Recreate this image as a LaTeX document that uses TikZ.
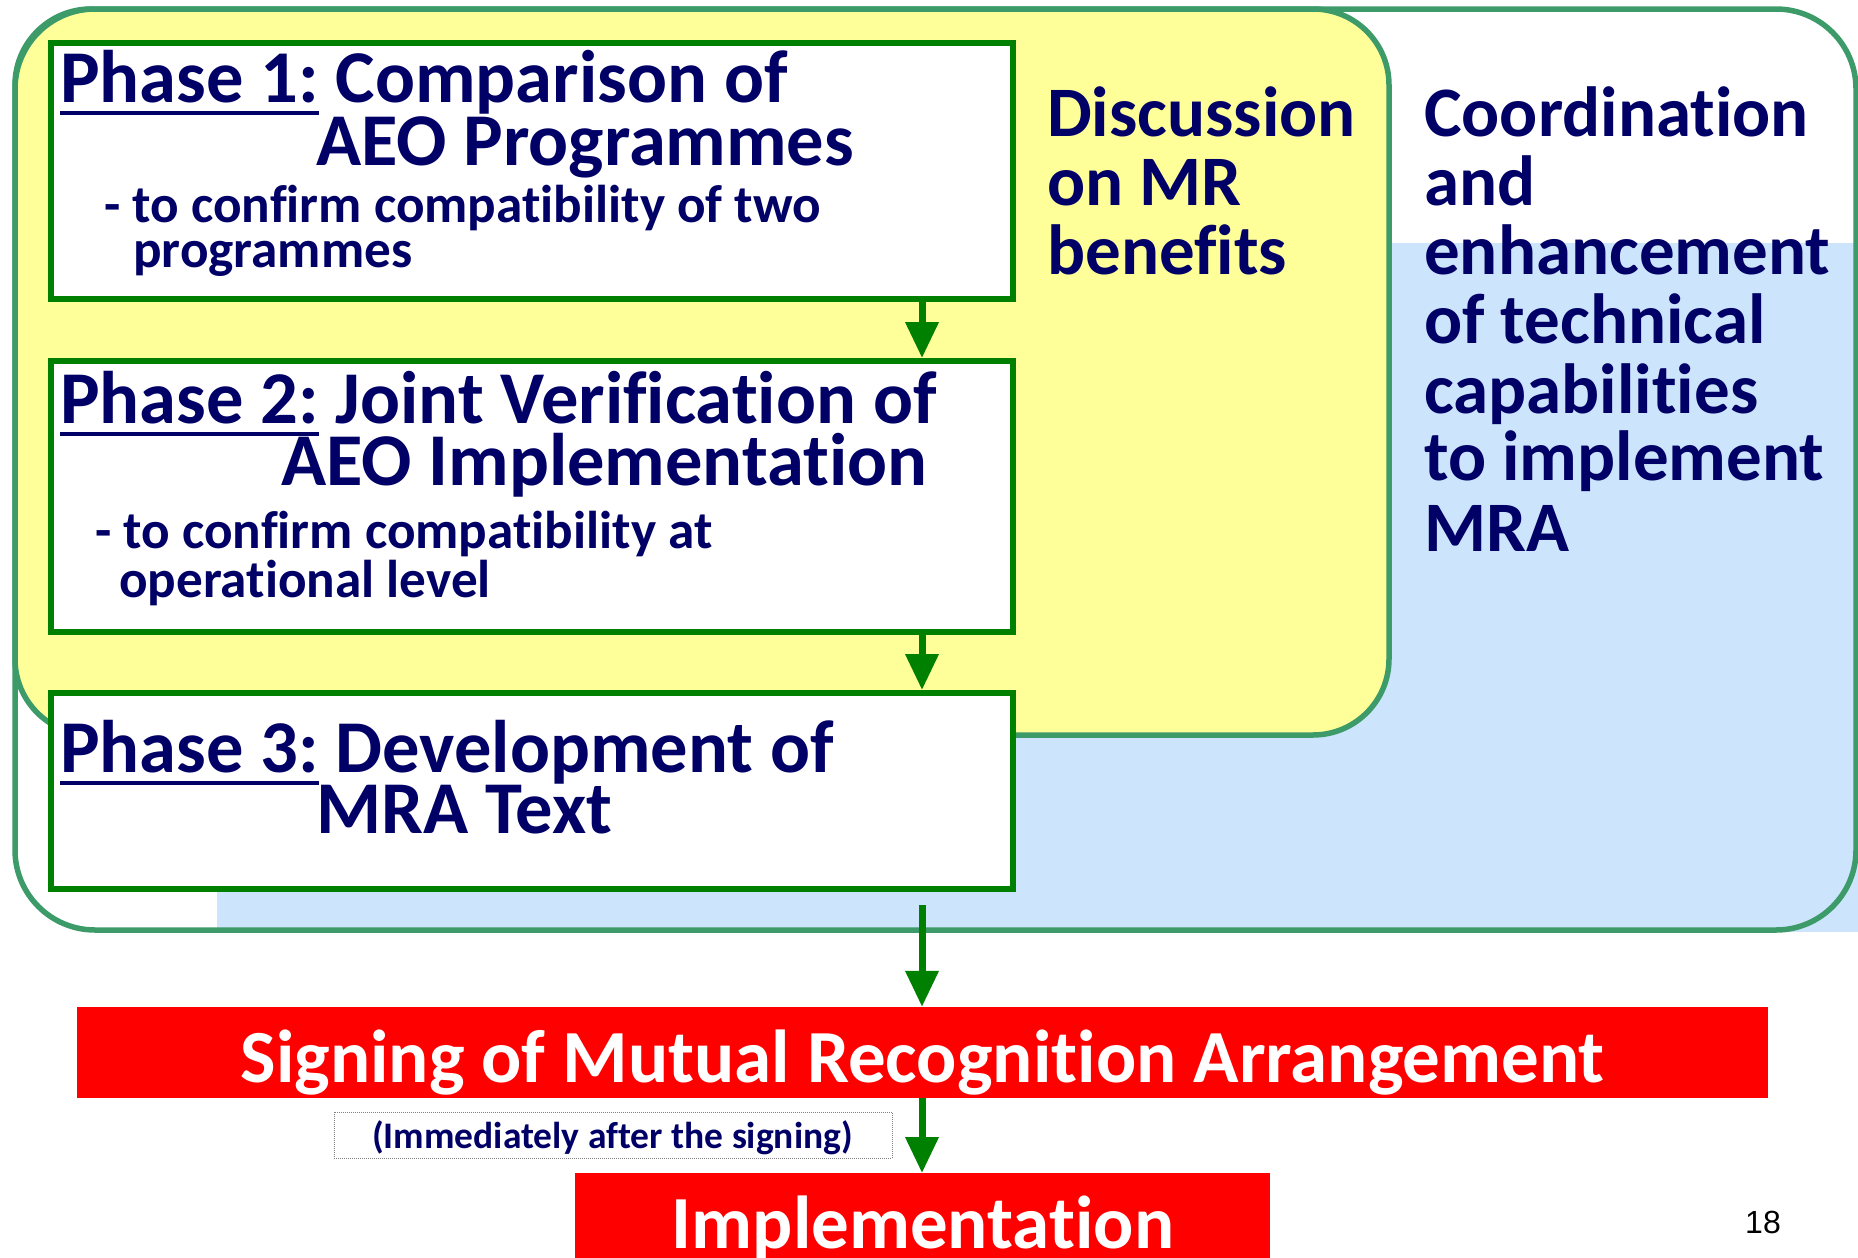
\documentclass[tikz,border=0pt]{standalone}
\usepackage{fontspec}
\setmainfont{Carlito}[Ligatures=NoCommon]
\newfontfamily\arialf{Liberation Sans}
\usetikzlibrary{arrows.meta}
\definecolor{navy}{RGB}{0,0,102}
\definecolor{phasegreen}{RGB}{0,128,0}
\definecolor{framegreen}{RGB}{60,155,105}
\definecolor{yellowfill}{RGB}{255,255,153}
\definecolor{bluefill}{RGB}{204,229,252}
\definecolor{redfill}{RGB}{255,0,0}
\newcommand\phaseul[1]{\setbox0\hbox{#1}\rlap{\rule[-12.5pt]{\wd0}{3.5pt}}\box0\relax}
\begin{document}
\begin{tikzpicture}[x=1pt,y=-1pt,
  head/.style={font=\bfseries\fontsize{74.5}{74.5}\selectfont, text=navy, inner sep=0, anchor=base west},
  sub/.style={font=\bfseries\fontsize{53.2}{53.2}\selectfont, text=navy, inner sep=0, anchor=base west},
  side/.style={font=\bfseries\fontsize{71}{71}\selectfont, text=navy, inner sep=0, anchor=base west},
  phasebox/.style={draw=phasegreen, line width=6, fill=white, inner sep=0, anchor=north west},
  arr/.style={draw=phasegreen, line width=7, -{Triangle[width=32pt,length=36pt]}},
  redbox/.style={fill=redfill, inner sep=0},
  bigwhite/.style={font=\bfseries\fontsize{75}{75}\selectfont, text=white, inner sep=0, anchor=base},
]
\useasboundingbox (0,0) rectangle (1858,1258);
% background panels
\fill[bluefill] (217,243) rectangle (1858,932);
\draw[framegreen, line width=5.5, fill=yellowfill, rounded corners=76] (15,9) rectangle (1389,735);
\draw[framegreen, line width=5.5, rounded corners=80] (15,9) rectangle (1856,930);
% phase boxes
\node[phasebox, minimum width=962, minimum height=256] (p1) at (48,40) {};
\node[phasebox, minimum width=962, minimum height=271] (p2) at (48,358) {};
\node[phasebox, minimum width=962, minimum height=196] (p3) at (48,690) {};
% phase texts
\node[head] (p1h) at (60,102) {\phaseul{Phase 1:} Comparison of};
\node[head] (p1h2) at (316,165) {AEO Programmes};
\node[sub] (p1s) at (104,222) {- to confirm compatibility of two};
\node[sub] (p1s2) at (133,267) {programmes};
\node[head] (p2h) at (60,423) {\phaseul{Phase 2:} Joint Verification of};
\node[head] (p2h2) at (281,485) {AEO Implementation};
\node[sub] (p2s) at (95,548) {- to confirm compatibility at};
\node[sub] (p2s2) at (119,597) {operational level};
\node[head] (p3h) at (60,772) {\phaseul{Phase 3:} Development of};
\node[head] (p3h2) at (316,833) {MRA Text};
% side texts
\node[side] (d1) at (1047,136) {Discussion};
\node[side] (d2) at (1047,205) {on MR};
\node[side] (d3) at (1047,274) {benefits};
\node[side] (c1) at (1424,136) {Coordination};
\node[side] (c2) at (1424,205) {and};
\node[side] (c3) at (1424,274) {enhancement};
\node[side] (c4) at (1424,343) {of technical};
\node[side] (c5) at (1424,413) {capabilities};
\node[side] (c6) at (1424,480) {to implement};
\node[side] (c7) at (1424,551) {MRA};
% bottom boxes
\node[redbox, minimum width=1691, minimum height=91] (sign) at (922.5,1052.5) {};
\node[bigwhite] (signt) at (922.5,1082) {Signing of Mutual Recognition Arrangement};
\node[redbox, minimum width=695, minimum height=100, anchor=north] (impl) at (922.5,1173) {};
\node[bigwhite] (implt) at (923,1248) {Implementation};
\node[draw=gray, densely dotted, line width=1, minimum width=558, minimum height=46, inner sep=0] (note) at (613,1135) {};
\node[font=\bfseries\fontsize{37.5}{37.5}\selectfont, text=navy, inner sep=0, anchor=base] (notet) at (612.5,1148) {(Immediately after the signing)};
\node[font=\arialf\fontsize{32}{32}\selectfont, inner sep=0, anchor=base west] (pg) at (1745,1233) {18};
% arrows
\coordinate (ax) at (922,0);
\draw[arr] (p1.south -| ax) -- (p2.north -| ax);
\draw[arr] (p2.south -| ax) -- (p3.north -| ax);
\draw[arr, shorten <=13pt] (p3.south -| ax) -- (sign.north -| ax);
\draw[arr] (sign.south -| ax) -- (impl.north -| ax);
\end{tikzpicture}
\end{document}
